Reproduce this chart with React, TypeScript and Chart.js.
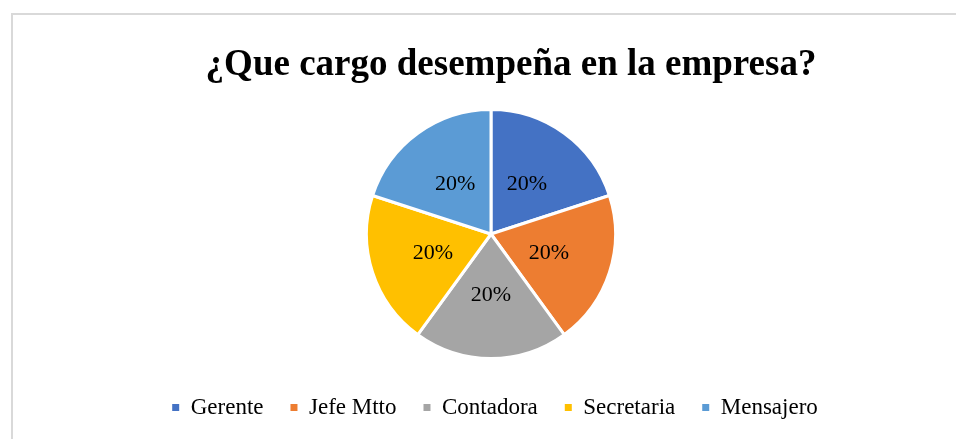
import React, { useEffect, useRef } from "react";
import { Chart, registerables } from "chart.js";

Chart.register(...registerables);

const TITLE = "¿Que cargo desempeña en la empresa?";
const categories = ["Gerente", "Jefe Mtto", "Contadora", "Secretaria", "Mensajero"];
const percentValues = [20, 20, 20, 20, 20];
const sliceColors = ["#4472C4", "#ED7D31", "#A5A5A5", "#FFC000", "#5B9BD5"];

const FONT = '"Liberation Serif", "Times New Roman", serif';

const sliceLabelPlugin = {
  id: "sliceLabels",
  afterDatasetsDraw(chart: any) {
    const ctx = chart.ctx;
    const meta = chart.getDatasetMeta(0);
    const data = chart.data.datasets[0].data as number[];
    const total = data.reduce((a, b) => a + b, 0);
    ctx.save();
    ctx.font = `22px ${FONT}`;
    ctx.fillStyle = "#000000";
    ctx.textAlign = "center";
    ctx.textBaseline = "middle";
    meta.data.forEach((arc: any, i: number) => {
      const { startAngle, endAngle, outerRadius, x, y } = arc.getProps(
        ["startAngle", "endAngle", "outerRadius", "x", "y"],
        true
      );
      const mid = (startAngle + endAngle) / 2;
      const d = outerRadius * 0.49;
      const pct = Math.round((data[i] / total) * 100);
      ctx.fillText(`${pct}%`, x + Math.cos(mid) * d, y + Math.sin(mid) * d);
    });
    ctx.restore();
  },
};

const shiftPlugin = {
  id: "boxShift",
  afterLayout(chart: any) {
    const t = chart.titleBlock;
    if (t) {
      t.left += 20;
      t.right += 20;
    }
    const l = chart.legend;
    if (l) {
      l.left += 4;
      l.right += 4;
    }
  },
};

export default function App() {
  const canvasRef = useRef<HTMLCanvasElement | null>(null);

  useEffect(() => {
    if (!canvasRef.current) return;
    const chart = new Chart(canvasRef.current, {
      type: "pie",
      data: {
        labels: categories,
        datasets: [
          {
            data: percentValues,
            backgroundColor: sliceColors,
            borderColor: "#ffffff",
            borderWidth: 3,
            radius: 124.5,
          } as any,
        ],
      },
      options: {
        animation: false,
        responsive: false,
        maintainAspectRatio: false,
        layout: { padding: { left: 26, right: 0, top: 0, bottom: 10 } },
        plugins: {
          title: {
            display: true,
            text: TITLE,
            color: "#000000",
            font: { family: FONT, size: 37, weight: "bold" },
            padding: { top: 43, bottom: 11.6 },
          },
          legend: {
            display: true,
            position: "bottom",
            labels: {
              color: "#000000",
              font: { family: FONT, size: 23 },
              boxWidth: 7,
              boxHeight: 7,
              padding: 27,
              generateLabels(chart: any) {
                const base = (Chart as any).overrides.pie.plugins.legend.labels.generateLabels(chart);
                return base.map((l: any) => ({ ...l, lineWidth: 0, strokeStyle: "rgba(0,0,0,0)" }));
              },
            },
          },
          tooltip: { enabled: false },
        },
      },
      plugins: [sliceLabelPlugin, shiftPlugin],
    });
    return () => chart.destroy();
  }, []);

  return (
    <div style={{ position: "absolute", left: 0, top: 0, width: 956, height: 439, background: "#ffffff", overflow: "hidden" }}>
      <canvas ref={canvasRef} width={956} height={439} style={{ position: "absolute", left: 0, top: 0, width: 956, height: 439 }} />
      <div
        style={{
          position: "absolute",
          left: 11,
          top: 13,
          width: 1000,
          height: 500,
          borderTop: "2px solid #d9d9d9",
          borderLeft: "2px solid #d9d9d9",
          pointerEvents: "none",
        }}
      />
    </div>
  );
}
